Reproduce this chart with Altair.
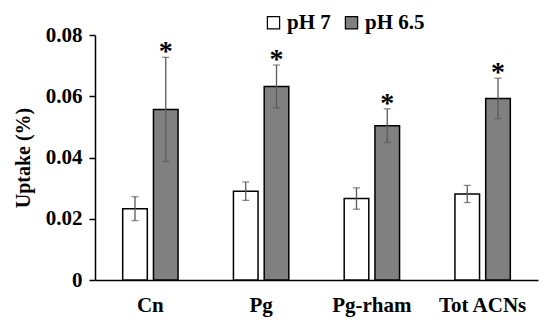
import altair as alt
import pandas as pd

categories = ["Cn", "Pg", "Pg-rham", "Tot ACNs"]
groups = ["pH 7", "pH 6.5"]
ph7 = [0.0233, 0.0290, 0.0266, 0.0281]
ph7_err = [0.0039, 0.0030, 0.0035, 0.0028]
ph65 = [0.0557, 0.0632, 0.0504, 0.0593]
ph65_err = [0.0170, 0.0070, 0.0055, 0.0066]
stars = ["", "", "", ""]
stars65 = ["*", "*", "*", "*"]

rows = []
for i, c in enumerate(categories):
    rows.append({"cat": c, "grp": "pH 7", "v": ph7[i], "lo": ph7[i] - ph7_err[i], "hi": ph7[i] + ph7_err[i], "star": stars[i]})
    rows.append({"cat": c, "grp": "pH 6.5", "v": ph65[i], "lo": ph65[i] - ph65_err[i], "hi": ph65[i] + ph65_err[i], "star": stars65[i]})
df = pd.DataFrame(rows)

FONT = "Liberation Serif"

x = alt.X("cat:N", sort=categories, title=None,
          scale=alt.Scale(paddingInner=0.5, paddingOuter=0.25),
          axis=alt.Axis(labelAngle=0, ticks=False, domainColor="black", domainWidth=1.5,
                        labelFont=FONT, labelFontSize=21, labelFontWeight="bold",
                        labelColor="black", labelPadding=14))
xo = alt.XOffset("grp:N", sort=groups, scale=alt.Scale(paddingInner=0.2))
y = alt.Y("v:Q", title="Uptake (%)",
          scale=alt.Scale(domain=[0, 0.08], nice=False),
          axis=alt.Axis(values=[0, 0.02, 0.04, 0.06, 0.08],
                        labelExpr="datum.value == 0 ? '0' : format(datum.value, '.2f')",
                        grid=False, domainColor="black", domainWidth=1.5,
                        tickColor="black", tickSize=6, tickWidth=1.5,
                        labelFont=FONT, labelFontSize=21, labelFontWeight="bold",
                        labelColor="black", labelPadding=7,
                        titleFont=FONT, titleFontSize=20, titleFontWeight="bold",
                        titleColor="black", titlePadding=12))

fill = alt.Fill("grp:N", sort=groups,
                scale=alt.Scale(domain=groups, range=["#ffffff", "#808080"]),
                legend=alt.Legend(title=None, orient="none", direction="horizontal",
                                  legendX=168, legendY=-23, padding=0,
                                  symbolType="square", symbolSize=150,
                                  symbolStrokeColor="black", symbolStrokeWidth=1.2,
                                  symbolOpacity=1,
                                  labelFont=FONT, labelFontSize=21, labelFontWeight="bold",
                                  labelColor="black", labelOffset=3, columnPadding=10))

base = alt.Chart(df)
bars = base.mark_bar(stroke="black", strokeWidth=1.5).encode(x=x, xOffset=xo, y=y, fill=fill)
rules = base.mark_rule(color="#5a5a5a", strokeWidth=1.3).encode(
    x=alt.X("cat:N", sort=categories), xOffset=xo, y="lo:Q", y2="hi:Q")
caps_hi = base.mark_tick(color="#5a5a5a", thickness=1.3, size=7, orient="horizontal").encode(
    x=alt.X("cat:N", sort=categories), xOffset=xo, y="hi:Q")
caps_lo = base.mark_tick(color="#5a5a5a", thickness=1.3, size=7, orient="horizontal").encode(
    x=alt.X("cat:N", sort=categories), xOffset=xo, y="lo:Q")
txt = base.mark_text(font=FONT, fontSize=28, fontWeight="bold", color="black",
                     baseline="bottom", dy=9).encode(
    x=alt.X("cat:N", sort=categories), xOffset=xo, y="hi:Q", text="star:N")

chart = alt.layer(bars, rules, caps_hi, caps_lo, txt).properties(
    width=443, height=245,
    autosize=alt.AutoSizeParams(type="none"),
    padding={"left": 87, "top": 27, "right": 4, "bottom": 37},
    background="white",
).configure_view(stroke=None)

chart.save("out.html", embed_options={"renderer": "svg", "actions": False})
